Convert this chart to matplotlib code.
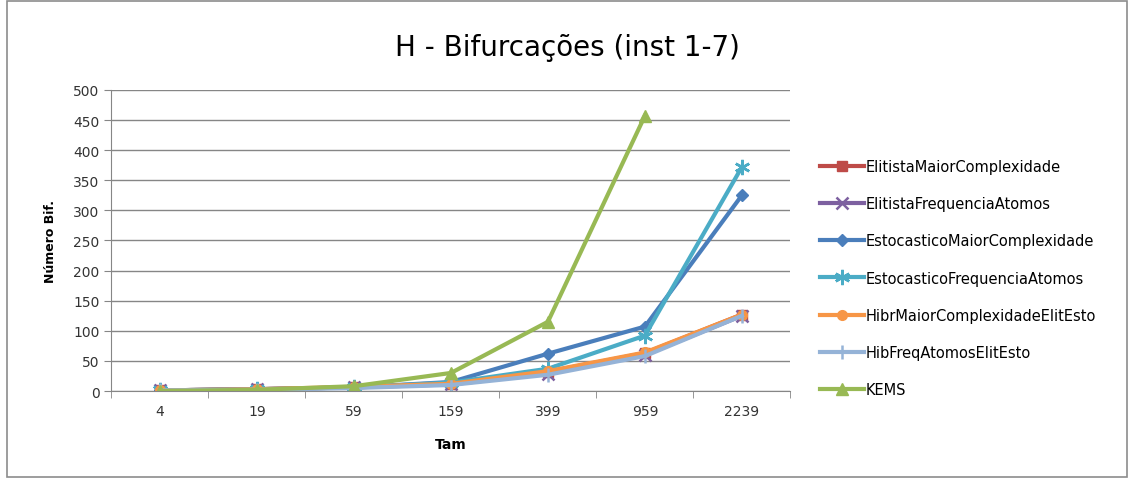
import matplotlib
matplotlib.use("Agg")
import matplotlib.pyplot as plt
from matplotlib.patches import Rectangle
import numpy as np

categories = ["4", "19", "59", "159", "399", "959", "2239"]

elitista_maior = [1, 3, 6, 12, 32, 63, 127]
elitista_freq = [1, 3, 6, 11, 29, 60, 125]
estocastico_maior = [1, 3, 6, 15, 62, 107, 325]
estocastico_freq = [1, 3, 6, 14, 37, 92, 372]
hibr_maior = [1, 3, 7, 12, 33, 64, 127]
hib_freq = [1, 2, 5, 10, 27, 58, 125]
kems = [0, 2, 8, 30, 115, 457, np.nan]

series = [
    ("ElitistaMaiorComplexidade", elitista_maior, "#BE4B48", "s", 7),
    ("ElitistaFrequenciaAtomos", elitista_freq, "#7D60A0", "x", 8),
    ("EstocasticoMaiorComplexidade", estocastico_maior, "#4A7EBB", "D", 6),
    ("EstocasticoFrequenciaAtomos", estocastico_freq, "#4BACC6", (6, 2, 0), 11),
    ("HibrMaiorComplexidadeElitEsto", hibr_maior, "#F79646", "o", 7),
    ("HibFreqAtomosElitEsto", hib_freq, "#95B3D7", "|", 10),
    ("KEMS", kems, "#98B954", "^", 8),
]

fig = plt.figure(figsize=(11.34, 4.81), dpi=100)
fig.patch.set_facecolor("white")
fig.add_artist(Rectangle((0.006, 0.006), 0.988, 0.99, transform=fig.transFigure,
                         fill=False, edgecolor="#8C8C8C", linewidth=1.2))

ax = fig.add_axes([0.0983, 0.185, 0.5987, 0.626])
x = np.arange(len(categories))

for name, vals, color, marker, ms in series:
    ax.plot(x, vals, color=color, linewidth=3.0, marker=marker, markersize=ms,
            markeredgewidth=1.8 if marker in ("x", "|") or isinstance(marker, tuple) else 1.0,
            markeredgecolor=color, markerfacecolor=color, label=name,
            solid_joinstyle="round")

ax.set_xlim(-0.5, len(categories) - 0.5)
ax.set_ylim(0, 500)
ax.set_yticks(np.arange(0, 501, 50))
ax.set_xticks(x)
ax.set_xticklabels(categories)
ax.set_xticks(np.arange(-0.5, len(categories), 1), minor=True)
ax.tick_params(axis="x", which="major", length=0, pad=9, labelsize=10, colors="#333333")
ax.tick_params(axis="x", which="minor", length=5, color="#868686", direction="out")
ax.tick_params(axis="y", length=5, color="#868686", direction="out", labelsize=10,
               labelcolor="#333333")
ax.grid(axis="y", color="#868686", linewidth=1.0)
ax.set_axisbelow(True)
for s in ("top", "right"):
    ax.spines[s].set_visible(False)
for s in ("left", "bottom"):
    ax.spines[s].set_color("#868686")

ax.set_xlabel("Tam", fontsize=10, fontweight="bold", labelpad=14)
ax.set_ylabel("Número Bif.", fontsize=9, fontweight="bold", labelpad=12)

fig.text(0.5, 0.9, "H - Bifurcações (inst 1-7)", ha="center", va="center",
         fontsize=20, family=["Liberation Sans Narrow", "DejaVu Sans"], color="#000000")

leg = ax.legend(loc="center left", bbox_to_anchor=(1.035, 0.375), frameon=False,
                fontsize=10.5, handlelength=3.0, labelspacing=1.52, handletextpad=0.15,
                borderaxespad=0)

fig.savefig("out.png", dpi=100, facecolor="white")
